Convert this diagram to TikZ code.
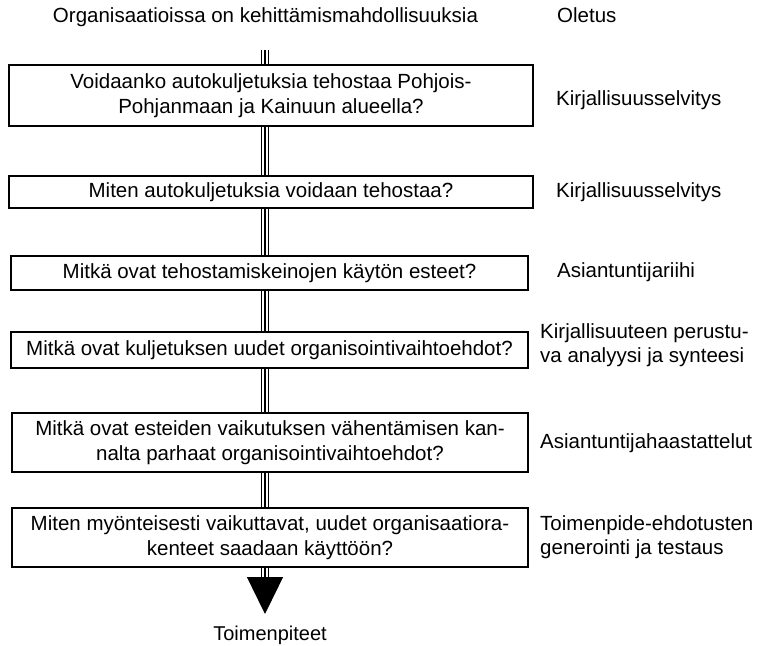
\documentclass[tikz,border=0pt]{standalone}
\usepackage{fontspec}
\setmainfont{Liberation Sans}
\usetikzlibrary{arrows.meta,backgrounds}

\begin{document}
\begin{tikzpicture}[x=1pt,y=-1pt]
\tikzstyle{box1}=[draw, line width=1.2pt, fill=white, align=center, inner sep=0pt, font=\fontsize{20.5}{25}\selectfont]
\tikzstyle{label1}=[anchor=west, align=left, inner sep=0pt, font=\fontsize{20.5}{24}\selectfont]
\tikzstyle{head1}=[inner sep=0pt, font=\fontsize{20.5}{24}\selectfont]
\tikzstyle{track}=[line width=1.3pt]
\useasboundingbox (0,0) rectangle (760,645);

\node (H) [head1, anchor=base] at (265.5,22) {Organisaatioissa on kehittämismahdollisuuksia};
\node (O) [head1, anchor=base west] at (557,22) {Oletus};

\node (A) [box1, minimum width=524pt, minimum height=61pt] at (271,95.5) {Voidaanko autokuljetuksia tehostaa Pohjois-\\Pohjanmaan ja Kainuun alueella?};
\node (B) [box1, minimum width=524pt, minimum height=32pt] at (271,192) {Miten autokuljetuksia voidaan tehostaa?};
\node (C) [box1, minimum width=517pt, minimum height=34pt] at (269.5,273) {Mitkä ovat tehostamiskeinojen käytön esteet?};
\node (D) [box1, minimum width=517pt, minimum height=36pt] at (269.5,350) {Mitkä ovat kuljetuksen uudet organisointivaihtoehdot?};
\node (E) [box1, minimum width=516pt, minimum height=59pt] at (270,442.5) {Mitkä ovat esteiden vaikutuksen vähentämisen kan-\\nalta parhaat organisointivaihtoehdot?};
\node (F) [box1, minimum width=516pt, minimum height=59pt] at (270,537.5) {Miten myönteisesti vaikuttavat, uudet organisaatiora-\\kenteet saadaan käyttöön?};

\node (LA) [label1] at (556,100) {Kirjallisuusselvitys};
\node (LB) [label1] at (556,192) {Kirjallisuusselvitys};
\node (LC) [label1] at (557,272) {Asiantuntijariihi};
\node (LD) [label1] at (540,345) {Kirjallisuuteen perustu-\\va analyysi ja synteesi};
\node (LE) [label1] at (540,443) {Asiantuntijahaastattelut};
\node (LF) [label1] at (540,537) {Toimenpide-ehdotusten\\generointi ja testaus};

\node (R) [inner sep=0pt, anchor=base, font=\fontsize{20}{24}\selectfont] at (270,640) {Toimenpiteet};

\coordinate (S) at (265,50);
\coordinate (T) at (265,614);
\begin{scope}[on background layer]
\draw [track, -{Triangle[length=37pt,width=36pt]}] (S) -- (T);
\foreach \d in {-3.5,3.5}
  \draw [track, shorten >=22pt] ([xshift=\d pt]S) -- ([xshift=\d pt]T);
\end{scope}
\end{tikzpicture}
\end{document}
